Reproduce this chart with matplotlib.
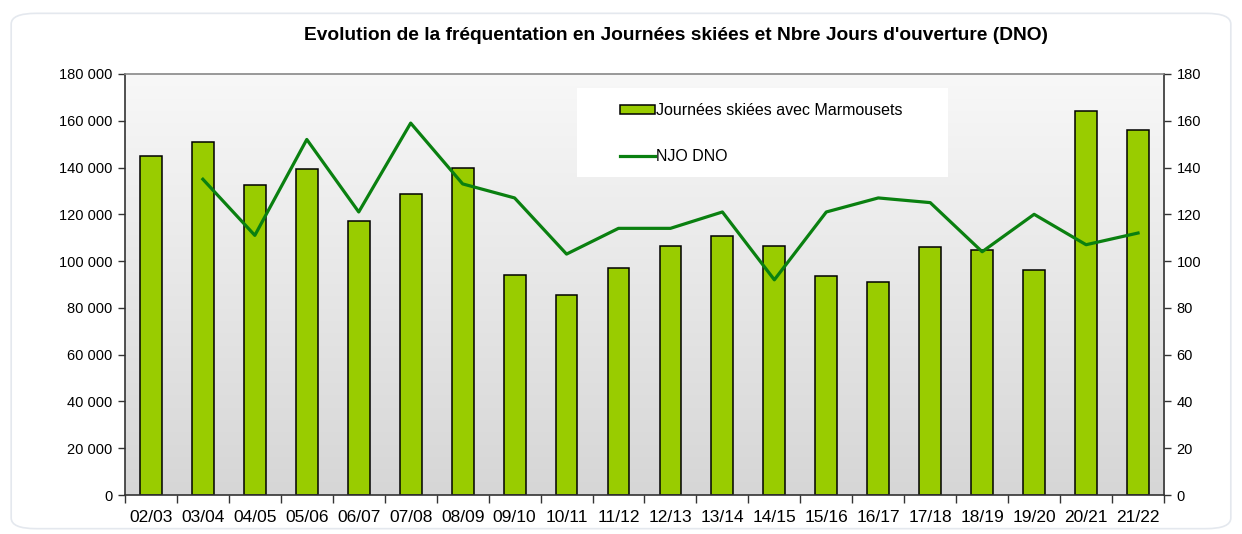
import numpy as np
import matplotlib
matplotlib.use("Agg")
import matplotlib.pyplot as plt
import matplotlib.ticker as ticker
from matplotlib.patches import FancyBboxPatch, Rectangle

plt.rcParams['font.family'] = ['Liberation Sans', 'DejaVu Sans']

# Data
seasons = ["02/03", "03/04", "04/05", "05/06", "06/07", "07/08", "08/09", "09/10", "10/11", "11/12",
           "12/13", "13/14", "14/15", "15/16", "16/17", "17/18", "18/19", "19/20", "20/21", "21/22"]
journees = [145000, 151000, 132500, 139500, 117000, 128500, 140000, 94000, 85500, 97000,
            106500, 110800, 106300, 93800, 91000, 106000, 104800, 96300, 164000, 156000]
njo_dno = [np.nan, 135, 111, 152, 121, 159, 133, 127, 103, 114,
           114, 121, 92, 121, 127, 125, 104, 120, 107, 112]

bar_color = '#99cc00'
line_color = '#0a8010'

fig = plt.figure(figsize=(12.42, 5.34), dpi=100)
frame = FancyBboxPatch((0.009, 0.01), 0.982, 0.965, boxstyle="round,pad=0,rounding_size=0.02",
                       transform=fig.transFigure, facecolor='white', edgecolor='#e4e8ee', lw=1.2, zorder=-10)
fig.patches.append(frame)
ax = fig.add_axes([0.1006, 0.073, 0.8366, 0.7885])
ax.patch.set_visible(False)

x = np.arange(len(seasons))
n = len(seasons)

# gradient background
grad = np.linspace(0, 1, 256).reshape(-1, 1)
cmap = matplotlib.colors.LinearSegmentedColormap.from_list('g', ['#f8f8f8', '#d6d6d6'])
ax.imshow(grad, aspect='auto', cmap=cmap, extent=(-0.5, n - 0.5, 0, 180000), origin='upper', zorder=0)

ax.bar(x, journees, width=0.42, color=bar_color, edgecolor='black', lw=1.1, zorder=2,
       label="Journées skiées avec Marmousets")
ax.set_xlim(-0.5, n - 0.5)
ax.set_ylim(0, 180000)
ax.yaxis.set_major_locator(ticker.MultipleLocator(20000))
ax.yaxis.set_major_formatter(ticker.FuncFormatter(lambda v, p: f"{int(v):,}".replace(",", " ")))
ax.set_xticks(x)
ax.set_xticklabels(seasons, fontsize=12.5)
ax.set_xticks(np.arange(-0.5, n, 1), minor=True)
ax.tick_params(axis='x', which='major', length=0, pad=11)
ax.tick_params(axis='x', which='minor', length=6, width=1, color='#333333', direction='out')
ax.tick_params(axis='y', labelsize=10.5, length=5, width=1, color='#333333', pad=4)

for s in ['left', 'right', 'bottom']:
    ax.spines[s].set_color('#333333')
    ax.spines[s].set_linewidth(1.2)
ax.spines['top'].set_color('#888888')
ax.spines['top'].set_linewidth(1.2)

ax2 = ax.twinx()
ax2.plot(x, njo_dno, color=line_color, lw=2.3, label="NJO DNO", zorder=3)
ax2.set_ylim(0, 180)
ax2.yaxis.set_major_locator(ticker.MultipleLocator(20))
ax2.tick_params(axis='y', labelsize=10.5, length=5, width=1, color='#333333', pad=4)
for s in ax2.spines.values():
    s.set_visible(False)

# legend box
ax2.add_patch(Rectangle((0.435, 0.755), 0.357, 0.211, transform=ax2.transAxes,
                        facecolor='white', edgecolor='none', zorder=1))
h1, l1 = ax.get_legend_handles_labels()
h2, l2 = ax2.get_legend_handles_labels()
leg = ax2.legend(h1 + h2, l1 + l2, loc='upper left', bbox_to_anchor=(0.476, 0.93), fontsize=11.5,
                 handlelength=2.2, handleheight=0.45, handletextpad=0.1, labelspacing=1.9,
                 borderpad=0, borderaxespad=0, frameon=False)

fig.text(0.544, 0.934, "Evolution de la fréquentation en Journées skiées et Nbre Jours d'ouverture (DNO)",
         ha='center', va='center', fontsize=13.8, fontweight='bold')

fig.savefig("out.png", dpi=100)
